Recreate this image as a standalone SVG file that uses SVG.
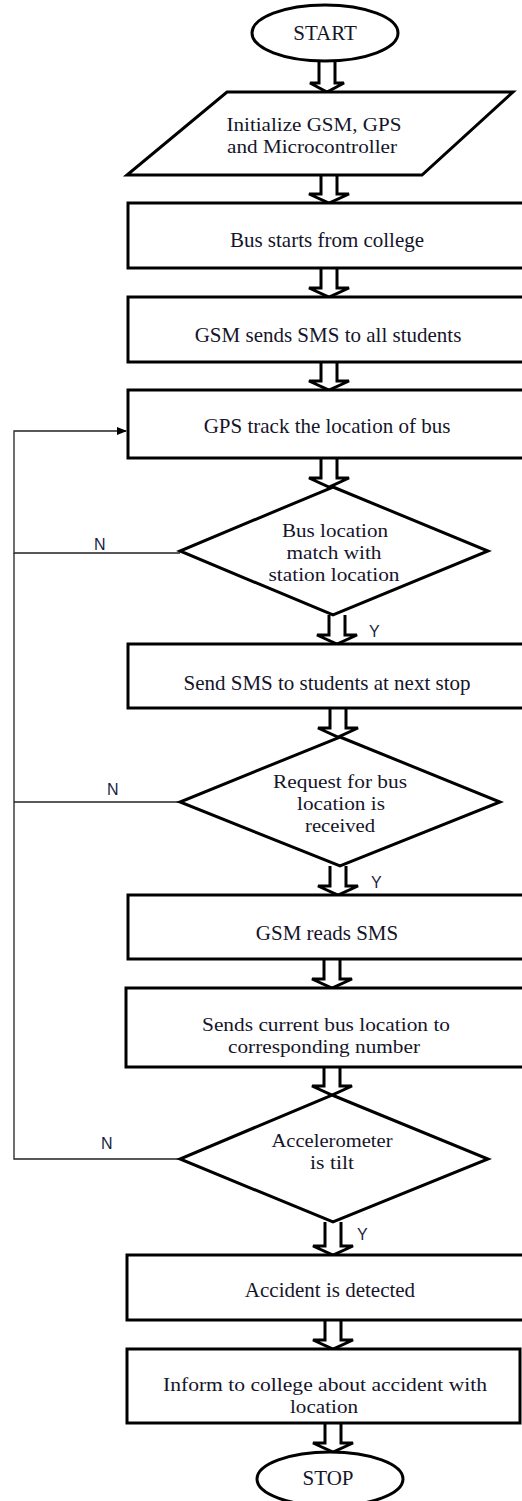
<svg xmlns="http://www.w3.org/2000/svg" width="522" height="1501" viewBox="0 0 522 1501">
<style>
.box{fill:#fff;stroke:#000;stroke-width:3}
.t{font-family:"Liberation Serif","Times New Roman",serif;font-size:21px;fill:#15152a;text-anchor:middle}
.m{font-size:19.5px}
.lb{font-family:"Liberation Sans",Arial,sans-serif;font-size:16px;fill:#1a1f3f}
.ln{fill:none;stroke:#222;stroke-width:1.3}
.ba{fill:#fff;stroke:#000;stroke-width:3;stroke-linejoin:miter}
</style>
<defs>
<marker id="ah" markerWidth="10" markerHeight="8" refX="9" refY="4" orient="auto" markerUnits="userSpaceOnUse">
<path d="M0,0 L10,4 L0,8 Z" fill="#000"/>
</marker>
</defs>
<rect width="522" height="1501" fill="#fff"/>

<g id="connectors">
<path class="ln" d="M180,553 H14 V431 H126" marker-end="url(#ah)"/>
<path class="ln" d="M180,802 H14"/>
<path class="ln" d="M180,1159 H14 V553"/>
<text class="lb" x="94" y="550">N</text>
<text class="lb" x="107" y="795">N</text>
<text class="lb" x="101" y="1149">N</text>
<text class="lb" x="369" y="637">Y</text>
<text class="lb" x="371" y="888">Y</text>
<text class="lb" x="357" y="1240">Y</text>
<path class="ba" d="M319,62 V83 H310 L327,92 L344,83 H335 V62"/>
<path class="ba" d="M321,175 V194 H309 L329,203 L349,194 H337 V175"/>
<path class="ba" d="M321,268 V288 H309 L329,297 L349,288 H337 V268"/>
<path class="ba" d="M321,362 V381 H309 L329,390 L349,381 H337 V362"/>
<path class="ba" d="M321,458 V478 H309 L329,487 L349,478 H337 V458"/>
<path class="ba" d="M329,615 V635 H317 L337,644 L357,635 H345 V615"/>
<path class="ba" d="M330,708 V728 H318 L338,737 L358,728 H346 V708"/>
<path class="ba" d="M330,866 V886 H318 L338,895 L358,886 H346 V866"/>
<path class="ba" d="M324,959 V979 H312 L332,988 L352,979 H340 V959"/>
<path class="ba" d="M324,1067 V1086 H312 L332,1095 L352,1086 H340 V1067"/>
<path class="ba" d="M325,1222 V1246 H313 L333,1255 L353,1246 H341 V1222"/>
<path class="ba" d="M325,1320 V1340 H313 L333,1349 L353,1340 H341 V1320"/>
<path class="ba" d="M325,1423 V1443 H313 L333,1452 L353,1443 H341 V1423"/>
</g>

<g id="start">
<ellipse class="box" cx="325" cy="33" rx="73" ry="28"/>
<text class="t" x="325" y="40">START</text>
</g>

<g id="init">
<polygon class="box" points="227,92 513,92 422,175 127,175"/>
<text class="t m" x="314" y="131" textLength="175" lengthAdjust="spacingAndGlyphs">Initialize GSM, GPS</text>
<text class="t m" x="312" y="153" textLength="170" lengthAdjust="spacingAndGlyphs">and Microcontroller</text>
</g>

<g id="bus-starts">
<rect class="box" x="128" y="203" width="396" height="65"/>
<text class="t" x="327" y="247">Bus starts from college</text>
</g>

<g id="gsm-sends">
<rect class="box" x="128" y="297" width="396" height="65"/>
<text class="t" x="328" y="342">GSM sends SMS to all students</text>
</g>

<g id="gps-track">
<rect class="box" x="128" y="390" width="396" height="68"/>
<text class="t" x="327" y="433">GPS track the location of bus</text>
</g>

<g id="match">
<polygon class="box" points="333,487 488,551 333,615 180,551"/>
<text class="t m" x="335" y="537" textLength="106" lengthAdjust="spacingAndGlyphs">Bus location</text>
<text class="t m" x="334" y="559" textLength="95" lengthAdjust="spacingAndGlyphs">match with</text>
<text class="t m" x="334" y="581" textLength="131" lengthAdjust="spacingAndGlyphs">station location</text>
</g>

<g id="send-sms">
<rect class="box" x="128" y="644" width="396" height="64"/>
<text class="t" x="327" y="690">Send SMS to students at next stop</text>
</g>

<g id="request">
<polygon class="box" points="340,737 500,802 340,866 180,802"/>
<text class="t m" x="340" y="788" textLength="134" lengthAdjust="spacingAndGlyphs">Request for bus</text>
<text class="t m" x="341" y="810" textLength="88" lengthAdjust="spacingAndGlyphs">location is</text>
<text class="t m" x="340" y="832" textLength="70" lengthAdjust="spacingAndGlyphs">received</text>
</g>

<g id="gsm-reads">
<rect class="box" x="128" y="895" width="396" height="64"/>
<text class="t" x="327" y="940">GSM reads SMS</text>
</g>

<g id="sends-location">
<rect class="box" x="126" y="988" width="398" height="79"/>
<text class="t m" x="326" y="1031" textLength="248" lengthAdjust="spacingAndGlyphs">Sends current bus location to</text>
<text class="t m" x="324" y="1053" textLength="192" lengthAdjust="spacingAndGlyphs">corresponding number</text>
</g>

<g id="accel">
<polygon class="box" points="332,1095 488,1159 333,1222 180,1159"/>
<text class="t m" x="332" y="1147" textLength="121" lengthAdjust="spacingAndGlyphs">Accelerometer</text>
<text class="t m" x="332" y="1169" textLength="44" lengthAdjust="spacingAndGlyphs">is tilt</text>
</g>

<g id="accident">
<rect class="box" x="127" y="1255" width="397" height="65"/>
<text class="t" x="330" y="1297">Accident is detected</text>
</g>

<g id="inform">
<rect class="box" x="127" y="1349" width="393" height="74"/>
<text class="t m" x="325" y="1391" textLength="324" lengthAdjust="spacingAndGlyphs">Inform to college about accident with</text>
<text class="t m" x="324" y="1413" textLength="68" lengthAdjust="spacingAndGlyphs">location</text>
</g>

<g id="stop">
<ellipse class="box" cx="330" cy="1479" rx="73" ry="27"/>
<text class="t" x="328" y="1485">STOP</text>
</g>
</svg>
